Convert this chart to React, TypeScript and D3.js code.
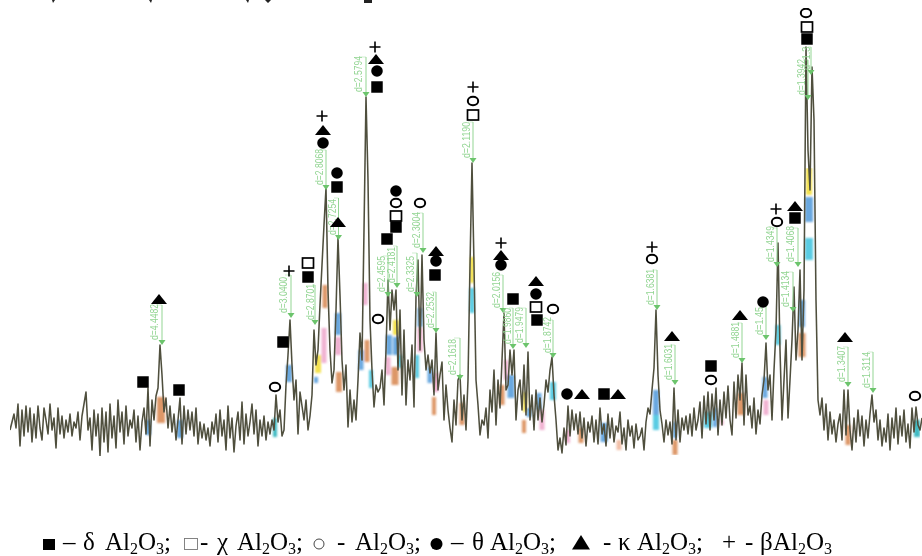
import React from "react";
import * as d3 from "d3";

const W = 922, H = 556;

const traceSegmentA: [number, number[]] = [10, [50,58,66,52,76,34,70,44,74,48, 72,38,66,42,74,52,40,72,60,46, 76,50,62,32,72,46,64,42,60,48, 66,44,58,52,68,40,64,76,88,50, 62,30,70,44,66,24,72,38,68,28, 76,42,64,32,80,48,68,36,74,44, 60,52,70,38,64,30,58,72,46,92]];
const traceSegmentB: [number, number[]] = [150, [34,80,60,84,92,135,105,68,82,52, 74,48,66,40,60,82,36,74,46,70, 50,68,44,72,36,58,42,56,40,52, 34,58,46,66,38,70,44,60,30,74, 42,62,28,54,68,40,78,36,66,44, 58,76,46,70,34,60,44,64,40,58]];
const traceSegmentC: [number, number[]] = [270, [46,60,50,85,58,70,44,50,95,125, 160,115,80,100,46,88,74,60,80,50, 64,85,150,115,130,175,215,255,292,190, 130,97,110,170,242,185,120,90,115,53, 90,58,80,60,100,147,120,250,383,300, 160,110,73,95,88]];
const traceSegmentD: [number, number[]] = [380, [92,110,75,130,200,150,190,170,190,110, 170,85,150,75,120,100,135,73,183,220, 130,225,140,110,125,107,120,85,147,90, 105,118,60,95,70,52,38,80,55,100, 105,60,85,50,100,215,317,215,100,75, 45,60,55,72,42,90,68,110,55,100, 72,120,167,90,95,130,105,130,60,90, 100,70,115,65,128,60,85,50,90,60, 82,58,75,100,88,110,123,85,60,30]];
const traceSegmentE: [number, number[]] = [560, [42,27,52,35,74,44,70,50,66,46, 68,42,62,34,58,48,64,38,60,36, 72,46,56,34,66,42,62,38,54,48, 68,36,52,30,60,44,54,32,56,40, 44,52,30,58,72,66,90,112,170,105, 70,56,38,60,45,58,36,92,40,70, 38,62,50,64,46,66,44,72,50,60, 78,42,84,56,88,50,86,60,92,45, 80,55,88,62,94,60,45,98,62,105, 80,117,55,105,65,74,52,82,46,70]];
const traceSegmentF: [number, number[]] = [760, [56,85,100,137,90,105,60,110,150,237, 130,60,100,140,62,100,140,193,120,150, 210,120,190,433,330,290,413,360,180,80, 65,82,50,76,40,68,46,60,38,56, 66,40,90,45,90,50,30,62,38,70, 44,64,34,60,42,66,85,58,70,40, 60,34,52,38,66,30,62,42,72,36, 64,44,70,38,56,32,72,48,73,55, 50,62]];
const traceSegments = [traceSegmentA, traceSegmentB, traceSegmentC, traceSegmentD, traceSegmentE, traceSegmentF];

type Kind = "blue" | "pink" | "orange" | "yellow" | "cyan" | "teal" | "peach";
const phaseBands: [number, number, number, Kind, number][] = [
  [148,45,60,"blue",6],[161,57,83,"orange",8],[180,42,60,"blue",6],[275,43,62,"teal",4],[289,98,115,"blue",6],
  [325,172,195,"orange",5],[324,117,152,"pink",5],[318,107,125,"yellow",6],[316,97,103,"blue",4],
  [338,145,167,"blue",6],[338,125,143,"pink",6],[339,88,108,"orange",6],[365,175,197,"pink",5],
  [367,118,140,"orange",5],[361,110,130,"blue",5],[371,92,110,"cyan",4],[389,125,145,"blue",6],
  [388,105,123,"pink",5],[396,145,160,"yellow",6],[396,125,143,"blue",6],[400,112,125,"cyan",4],
  [395,95,113,"orange",7],[420,153,172,"blue",5],[420,128,152,"pink",5],[417,102,125,"cyan",4],
  [430,97,113,"blue",5],[436,88,107,"pink",5],[434,65,83,"orange",4],[462,55,77,"orange",5],
  [472,197,223,"yellow",4],[472,167,192,"cyan",5],[506,100,120,"pink",4],[511,82,105,"blue",7],
  [502,75,95,"orange",5],[525,68,88,"yellow",4],[529,63,72,"blue",5],[524,47,60,"orange",4],
  [539,70,87,"blue",5],[542,50,70,"pink",5],[553,80,98,"cyan",6],[568,37,50,"pink",4],
  [581,37,52,"orange",5],[604,38,57,"blue",7],[619,30,40,"peach",5],[656,65,90,"blue",6],
  [656,50,65,"cyan",6],[675,42,58,"blue",4],[675,25,40,"orange",5],[708,52,68,"cyan",8],
  [715,53,72,"blue",4],[722,55,60,"pink",3],[741,65,87,"orange",7],[765,82,103,"blue",5],
  [766,65,80,"pink",5],[778,135,155,"cyan",5],[802,153,180,"blue",6],[802,123,147,"orange",7],
  [848,35,55,"orange",5],[917,43,60,"teal",6],[809,285,312,"yellow",6],[809,258,283,"blue",8],
  [809,220,242,"cyan",8],
];
const bandColors: Record<Kind, string> = {
  blue: "#5a9fdc", pink: "#eea9cc", orange: "#d98c58", yellow: "#f2de3a",
  cyan: "#49c6e0", teal: "#2fb4bc", peach: "#f0b89c",
};

const peakLabels = ["d=4.4482","d=3.0400","d=2.8701","d=2.8068","d=2.7254","d=2.5794","d=2.4595","d=2.4181","d=2.3325","d=2.3004","d=2.2532","d=2.1618","d=2.1190","d=2.0156","d=1.9860","d=1.9479","d=1.8742","d=1.6381","d=1.6031","d=1.4881","d=1.45","d=1.4349","d=1.4134","d=1.4068","d=1.3942","d=1.3","d=1.3407","d=1.3114"];
const peakX = [162,291,315,326,338.5,366,388,397,417,423,436,460,473,503,513,526,553,657,675,742,766,777,793,798,808,811,848,873];
const peakTextX = [155,284,311,320,333,359,382,392,411,417,431,453,467,497,508,520,548,651,669,736,760,771,786,791,802,807,842,867];
const peakFrom = [175,205,195,330,282,423,224,234,227,267,188,142,358,205,172,172,160,210,135,157,180,252,208,252,420,433,133,128];
const peakTip = [135,162,155,290,240,383,183,192,183,227,147,100,317,167,131,132,122,170,95,117,140,213,168,213,380,405,93,87];

type Mark = "square" | "squareOpen" | "circle" | "circleOpen" | "triangle" | "plus";
const phaseMarks: [number, number, Mark][] = [
  [159,181,"triangle"],[143,98,"square"],[179,90,"square"],[275,93,"circleOpen"],[283,138,"square"],
  [289,209,"plus"],[308,217,"squareOpen"],[308,203,"square"],[322,364,"plus"],[323,350,"triangle"],
  [323,337,"circle"],[337,307,"circle"],[337,293,"square"],[338,258,"triangle"],[375,433,"plus"],
  [376,421,"triangle"],[377,409,"circle"],[377,393,"square"],[396,289,"circle"],[396,277,"circleOpen"],
  [396,264,"squareOpen"],[396,253,"square"],[387,241,"square"],[420,277,"circleOpen"],[436,229,"triangle"],
  [436,219,"circle"],[435,205,"square"],[378,161,"circleOpen"],[473,393,"plus"],[473,379,"circleOpen"],
  [473,365,"squareOpen"],[501,237,"plus"],[501,225,"triangle"],[501,215,"circle"],[513,181,"square"],
  [536,199,"triangle"],[536,186,"circle"],[536,173,"squareOpen"],[537,160,"square"],[553,171,"circleOpen"],
  [567,86,"circle"],[582,86,"triangle"],[604,86,"square"],[618,86,"triangle"],[672,144,"triangle"],
  [711,114,"square"],[711,100,"circleOpen"],[740,165,"triangle"],[763,178,"circle"],[845,143,"triangle"],
  [915,84,"circleOpen"],[652,233,"plus"],[652,221,"circleOpen"],[776,271,"plus"],[777,258,"circleOpen"],
  [795,274,"triangle"],[795,262,"square"],[806,467,"circleOpen"],[807,453,"squareOpen"],[807,441,"square"],
];

const x = d3.scaleLinear().domain([0, 922]).range([0, W]);
const y = d3.scaleLinear().domain([0, 480]).range([480, 0]);

const tracePoints: [number, number][] = traceSegments.flatMap(([start, vals]) =>
  vals.map((v, i) => [start + 2 * i, v] as [number, number]));
const tracePath = d3.line<[number, number]>().x(d => x(d[0])).y(d => y(d[1]))(tracePoints) ?? "";

const triPath = d3.line()([[-8, 5], [8, 5], [0, -5]]) + "Z";
const squarePath = d3.symbol(d3.symbolSquare, 132)() ?? "";
const circlePath = d3.symbol(d3.symbolCircle, 105)() ?? "";

function Marker({ px, py, kind }: { px: number; py: number; kind: Mark }) {
  const t = `translate(${px},${py})`;
  switch (kind) {
    case "square": return <path transform={t} d={squarePath} fill="#000" />;
    case "squareOpen": return <rect x={px - 5.5} y={py - 5} width={11} height={10} fill="#fff" stroke="#000" strokeWidth={1.7} />;
    case "circle": return <path transform={t} d={circlePath} fill="#000" />;
    case "circleOpen": return <ellipse cx={px} cy={py} rx={5.2} ry={4.3} fill="#fff" stroke="#000" strokeWidth={2} />;
    case "triangle": return <path transform={t} d={triPath} fill="#000" />;
    case "plus": return <path transform={t} d="M-5.5,0H5.5M0,-5.5V5.5" stroke="#000" strokeWidth={1.6} fill="none" />;
  }
}

const GREEN = "#93d593";

const legendBase = 550;
const legendGreek: [number, string][] = [[63, "–"], [83, "δ"], [200, "-"], [217, "χ"], [337, "-"], [451, "–"], [472, "θ"], [603, "-"], [618, "κ"], [722, "+"], [745, "-"], [760, "β"]];
const legendFormulaX = [105, 237, 355, 490, 637, 773];

function Formula({ px, last }: { px: number; last: boolean }) {
  return (
    <text x={px} y={legendBase}>
      Al<tspan dy={4} fontSize={16}>2</tspan><tspan dy={-4}>O</tspan><tspan dy={4} fontSize={16}>3</tspan>
      {last ? null : <tspan dy={-4}>;</tspan>}
    </text>
  );
}

export default function App() {
  return (
    <svg width={W} height={H} viewBox={`0 0 ${W} ${H}`} style={{ position: "absolute", left: 0, top: 0, background: "#fff" }}>
      <defs>
        <filter id="soft" x="0" y="0" width="100%" height="100%">
          <feGaussianBlur stdDeviation="0.4" />
        </filter>
        <filter id="softer" x="0" y="0" width="100%" height="100%">
          <feGaussianBlur stdDeviation="0.9" />
        </filter>
      </defs>
      <path d="M52,0h3l-2,3zM149,0h3l-1,3zM246,0h3l-1,3zM265,0h6l-3,3zM364,0h8v3h-8z" fill="#222" />
      <g filter="url(#softer)">
        {phaseBands.map(([px, lo, hi, kind, dx], i) => (
          <rect key={i} x={x(px) - dx / 2} y={y(hi)} width={dx} height={y(lo) - y(hi)} fill={bandColors[kind]} opacity={0.9} />
        ))}
      </g>
      <g filter="url(#soft)">
        <path d={tracePath} fill="none" stroke="#4f4f3e" strokeWidth={1.55} strokeLinejoin="round" />
        {peakLabels.map((label, i) => {
          const tx = x(peakTextX[i]);
          const top = y(peakFrom[i]);
          const tip = y(peakTip[i]);
          const px = x(peakX[i]);
          return (
            <g key={label}>
              <line x1={px} x2={px} y1={top} y2={tip - 3} stroke={GREEN} strokeWidth={1} />
              <line x1={tx + 1} x2={px} y1={top} y2={top} stroke={GREEN} strokeWidth={0.7} opacity={0.6} />
              <path d={`M${px - 3.5},${tip - 5}H${px + 3.5}L${px},${tip}Z`} fill="#6cc46c" />
              <text transform={`translate(${tx + 2.5},${tip - 5}) rotate(-90)`} fontFamily="Liberation Sans" fontSize={10}
                fill={GREEN} textLength={Math.min(36, label.length * 4.7)} lengthAdjust="spacingAndGlyphs">{label}</text>
            </g>
          );
        })}
        {phaseMarks.map(([px, lvl, kind], i) => (
          <Marker key={i} px={x(px)} py={y(lvl)} kind={kind} />
        ))}
      </g>
      <g filter="url(#soft)" fontFamily="Liberation Serif" fontSize={25} fill="#000">
        <rect x={43} y={539} width={12} height={11} fill="#000" />
        <rect x={184.5} y={538.5} width={13} height={11} fill="#fff" stroke="#777" strokeWidth={0.9} />
        <circle cx={319} cy={544} r={5} fill="#fff" stroke="#444" strokeWidth={1} />
        <circle cx={436.5} cy={544} r={6} fill="#000" />
        <path d="M572,549.5L581,535L590,549.5Z" fill="#000" />
        {legendGreek.map(([px, s], i) => <text key={i} x={px} y={legendBase}>{s}</text>)}
        {legendFormulaX.map((px, i) => <Formula key={i} px={px} last={i === legendFormulaX.length - 1} />)}
      </g>
    </svg>
  );
}
